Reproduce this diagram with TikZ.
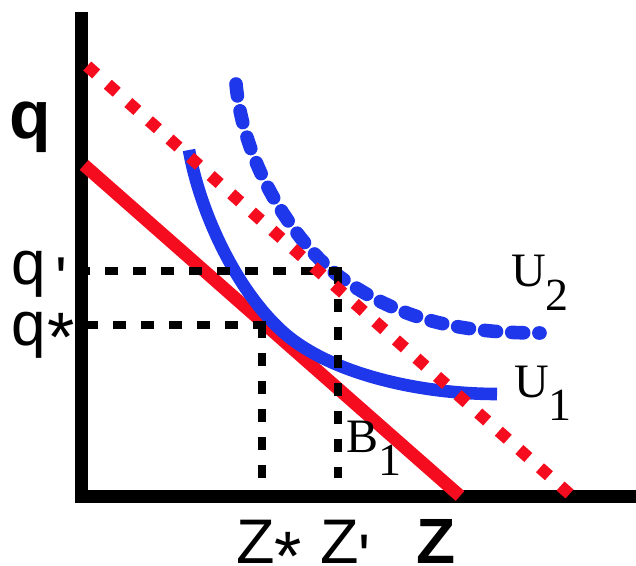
\documentclass[tikz,border=0pt]{standalone}
\usepackage{fontspec}
\setmainfont{Liberation Serif}
\newfontfamily\labsans{Liberation Sans}
\definecolor{ured}{RGB}{245,12,30}
\definecolor{ublue}{RGB}{30,55,235}
\newcommand{\lowmark}[2]{\raisebox{#1}[0pt][0pt]{#2}}
\begin{document}
\begin{tikzpicture}[x=0.5pt,y=-0.5pt,
  axis/.style={line width=6.5pt, line join=miter},
  budget/.style={ured, line width=6.5pt},
  budgetdot/.style={ured, line width=6pt, dash pattern=on 6pt off 7.757pt},
  indiff/.style={ublue, line width=6.3pt},
  indiffdash/.style={ublue, line width=6.8pt, line cap=round, dash pattern=on 6pt off 7.6pt},
  guide/.style={black, line width=4pt, dash pattern=on 6.5pt off 7.5pt},
  lab/.style={anchor=base west, inner sep=0pt, outer sep=0pt},
  sanslab/.style={lab, font=\labsans\fontsize{31}{36}\selectfont},
  serlab/.style={lab, font=\fontsize{24}{28}\selectfont}]
\useasboundingbox (0,0) rectangle (636,566);
% axes
\coordinate (ytop) at (81,12);
\coordinate (o) at (81,496);
\coordinate (xend) at (636,496);
\draw[axis] (ytop) -- (o) -- (xend);
% budget line B1
\coordinate (b1s) at (84,165);
\coordinate (b1e) at (460,496);
\draw[budget] (b1s) -- (b1e);
% indifference curves
\coordinate (u1s) at (189,150);
\coordinate (u1m) at (283,332);
\coordinate (u1e) at (497,394);
\draw[indiff] (u1s) .. controls (200,212) and (236,290) .. (u1m)
  .. controls (330,374) and (420,394) .. (u1e);
\coordinate (u2s) at (236,84);
\coordinate (u2m) at (340,277);
\coordinate (u2e) at (540,333);
\draw[indiffdash] (u2s) .. controls (244,170) and (300,248) .. (u2m)
  .. controls (400,320) and (460,333) .. (u2e);
% guide lines
\coordinate (qsL) at (81,325);
\coordinate (qsR) at (266,325);
\coordinate (zsT) at (262,325);
\coordinate (zsB) at (262,478);
\coordinate (qpL) at (81,271);
\coordinate (qpR) at (342,271);
\coordinate (zpT) at (338,271);
\coordinate (zpB) at (338,478);
\draw[guide] (qsR) -- (qsL);
\draw[guide] (zsT) -- (zsB);
\draw[guide] (qpR) -- (qpL);
\draw[guide] (zpT) -- (zpB);
% shifted budget line (dotted)
\coordinate (b2s) at (87.2,66);
\coordinate (b2e) at (569.5,494);
\draw[budgetdot] (b2s) -- (b2e);
% labels
\node[lab, font=\labsans\bfseries\fontsize{34}{40}\selectfont] (qaxis) at (10,139) {q};
\node[sanslab] (qprime) at (11,285) {q\kern5pt\lowmark{-8pt}{'}};
\node[sanslab] (qstar) at (11,345) {q\kern1pt\lowmark{-8pt}{\fontsize{35}{36}\selectfont *}};
\node[lab, font=\labsans\fontsize{31.5}{36}\selectfont] (zstar) at (236.5,563) {Z\lowmark{-8.5pt}{\fontsize{35}{36}\selectfont *}};
\node[lab, font=\labsans\fontsize{31.5}{36}\selectfont] (zprime) at (320.5,563) {Z\lowmark{-7.5pt}{'}};
\node[lab, font=\labsans\bfseries\fontsize{32}{36}\selectfont] (zaxis) at (416,563) {Z};
\node[serlab] (u2) at (511,287) {U\lowmark{-11.5pt}{\fontsize{23}{28}\selectfont 2}};
\node[serlab] (u1) at (514,397) {U\lowmark{-11.5pt}{\fontsize{23}{28}\selectfont 1}};
\node[serlab] (b1) at (346,452) {B\lowmark{-11.5pt}{\fontsize{23}{28}\selectfont 1}};
\end{tikzpicture}
\end{document}
